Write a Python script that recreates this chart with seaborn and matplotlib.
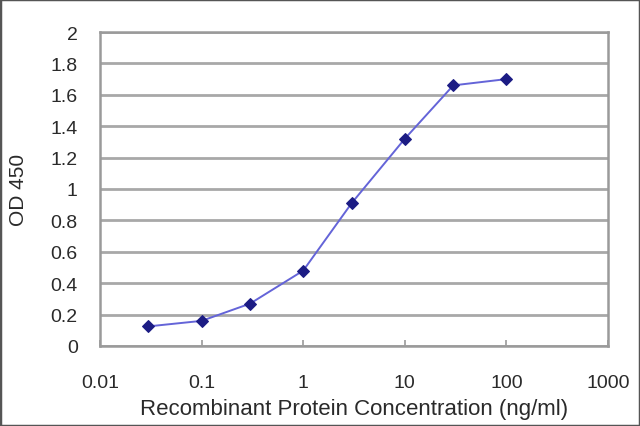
import matplotlib
matplotlib.use("Agg")
import matplotlib.pyplot as plt
import seaborn as sns
import pandas as pd
from matplotlib.ticker import FixedLocator, FixedFormatter, NullLocator

concentration = [0.03, 0.1, 0.3, 1, 3, 10, 30, 100]
od450 = [0.125, 0.16, 0.27, 0.48, 0.91, 1.32, 1.66, 1.70]
x_ticks = [0.01, 0.1, 1, 10, 100, 1000]
x_tick_labels = ["0.01", "0.1", "1", "10", "100", "1000"]
y_ticks = [0, 0.2, 0.4, 0.6, 0.8, 1, 1.2, 1.4, 1.6, 1.8, 2]
y_tick_labels = ["0", "0.2", "0.4", "0.6", "0.8", "1", "1.2", "1.4", "1.6", "1.8", "2"]

df = pd.DataFrame({"conc": concentration, "od": od450})

sns.set_theme(style="white")
plt.rcParams["font.family"] = ["Liberation Sans", "DejaVu Sans"]

fig = plt.figure(figsize=(6.4, 4.27), dpi=100)
ax = fig.add_axes([100/640, 1 - 347/427, 508/640, 314/427])

sns.lineplot(data=df, x="conc", y="od", ax=ax, color="#6464d8", linewidth=1.4,
             marker="D", markersize=6, markerfacecolor="#1c1c84",
             markeredgecolor="#1c1c84", zorder=3)

ax.set_xscale("log")
ax.set_xlim(0.01, 1000)
ax.set_ylim(0, 2)
ax.xaxis.set_major_locator(FixedLocator(x_ticks))
ax.xaxis.set_major_formatter(FixedFormatter(x_tick_labels))
ax.xaxis.set_minor_locator(NullLocator())
ax.yaxis.set_major_locator(FixedLocator(y_ticks))
ax.yaxis.set_major_formatter(FixedFormatter(y_tick_labels))

ax.grid(axis="y", color="#a8a8a8", linewidth=2.0)
ax.grid(axis="x", visible=False)
ax.set_axisbelow(True)
for s in ax.spines.values():
    s.set_color("#9a9a9a")
    s.set_linewidth(1.8)

ax.tick_params(axis="x", direction="in", length=4, width=1.2, color="#9a9a9a",
               labelsize=14, pad=20, labelcolor="#2a2a2a", bottom=True)
ax.tick_params(axis="y", length=0, labelsize=14, pad=16, labelcolor="#2a2a2a")

ax.set_xlabel("Recombinant Protein Concentration (ng/ml)", fontsize=16,
              color="#2a2a2a", labelpad=5)
ax.set_ylabel("OD 450", fontsize=15, color="#2a2a2a", labelpad=16)

fig.patches.append(plt.Rectangle((0, 0), 1, 1, transform=fig.transFigure,
                                 fill=False, edgecolor="#555555", linewidth=2.5))

fig.savefig("out.png", dpi=100)
